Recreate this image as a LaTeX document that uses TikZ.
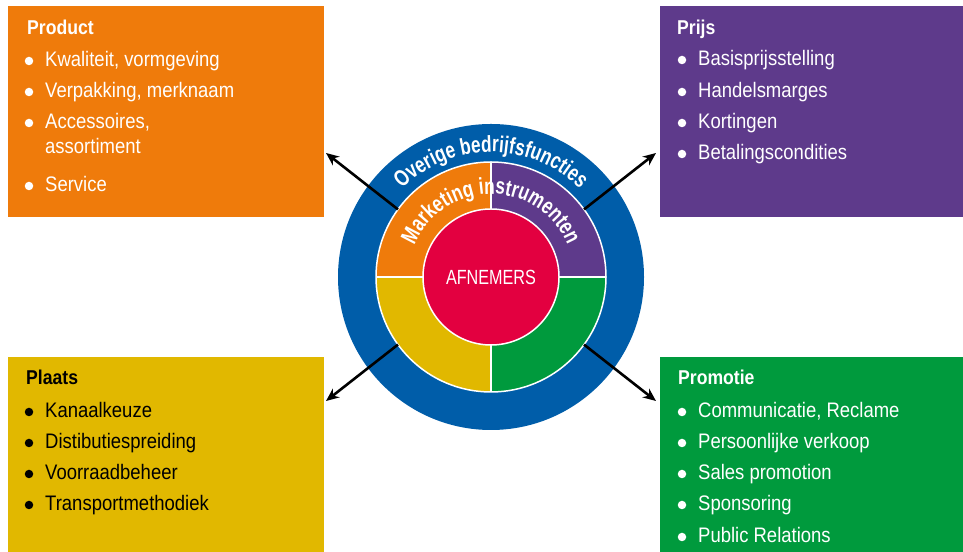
\documentclass[tikz,border=0pt]{standalone}
\usepackage{fontspec}
\setmainfont[FakeStretch=0.88]{Liberation Sans}
\newfontfamily\condfont[FakeStretch=0.79]{Liberation Sans}
\newfontfamily\arcfont[FakeStretch=0.75]{Liberation Sans}
\usetikzlibrary{decorations.text,arrows.meta}
\definecolor{cOrange}{HTML}{EF7B0B}
\definecolor{cPurple}{HTML}{5E3A8B}
\definecolor{cYellow}{HTML}{E1B800}
\definecolor{cGreen}{HTML}{009A3D}
\definecolor{cBlue}{HTML}{005DA9}
\definecolor{cRed}{HTML}{E30040}
\begin{document}
\begin{tikzpicture}[x=1bp,y=1bp,
  box/.style={draw=none, inner sep=0, outer sep=0, anchor=south west},
  ttl/.style={anchor=base west, inner sep=0, font=\fontsize{20bp}{22bp}\selectfont\bfseries},
  itm/.style={anchor=base west, inner sep=0, font=\fontsize{21bp}{25bp}\selectfont},
  dot/.style={circle, inner sep=0, outer sep=0, minimum size=8.5bp},
  arr/.style={line width=2.6bp, -{Stealth[length=13bp,width=11bp]}},
  wline/.style={draw=white, line width=1.5bp}]
\useasboundingbox (0,0) rectangle (963,552);

% boxes
\node[box, fill=cOrange, minimum width=316bp, minimum height=211bp] (product) at (8,335) {};
\node[box, fill=cPurple, minimum width=303bp, minimum height=211bp] (prijs) at (660,335) {};
\node[box, fill=cYellow, minimum width=316bp, minimum height=195bp] (plaats) at (8,0) {};
\node[box, fill=cGreen, minimum width=303bp, minimum height=195bp] (promotie) at (660,0) {};

% Product
\node[ttl, text=white] (tprod) at (27,517) {Product};
\foreach \n/\y/\t in {1/485/{Kwaliteit, vormgeving},2/454/{Verpakking, merknaam},3/423/{Accessoires,},5/360/{Service}}{
  \node[dot, fill=white] (pdot\n) at (29,\y+6) {};
  \node[itm, text=white] (pit\n) at (45,\y) {\t};
}
\node[itm, text=white] (pit4) at (45,398) {assortiment};

% Prijs
\node[ttl, text=white] (tprijs) at (677,517) {Prijs};
\foreach \n/\y/\t in {1/486/{Basisprijsstelling},2/454/{Handelsmarges},3/423/{Kortingen},4/392/{Betalingscondities}}{
  \node[dot, fill=white] (jdot\n) at (682,\y+6) {};
  \node[itm, text=white] (jit\n) at (698,\y) {\t};
}

% Plaats
\node[ttl, text=black] (tplaats) at (26,167) {Plaats};
\foreach \n/\y/\t in {1/134/{Kanaalkeuze},2/103/{Distibutiespreiding},3/72/{Voorraadbeheer},4/41/{Transportmethodiek}}{
  \node[dot, fill=black] (ldot\n) at (29,\y+6) {};
  \node[itm, text=black] (lit\n) at (45,\y) {\t};
}

% Promotie
\node[ttl, text=white] (tprom) at (678,167) {Promotie};
\foreach \n/\y/\t in {1/134/{Communicatie, Reclame},2/103/{Persoonlijke verkoop},3/72/{Sales promotion},4/41/{Sponsoring},5/9/{Public Relations}}{
  \node[dot, fill=white] (mdot\n) at (682,\y+6) {};
  \node[itm, text=white] (mit\n) at (698,\y) {\t};
}

% central circles
\coordinate (c) at (491,275);
\node[circle, fill=cBlue, inner sep=0, outer sep=0, minimum size=306bp] (outer) at (c) {};
\fill[cOrange] (c) -- ++(90:115) arc[start angle=90, end angle=180, radius=115] -- cycle;
\fill[cPurple] (c) -- ++(0:115) arc[start angle=0, end angle=90, radius=115] -- cycle;
\fill[cYellow] (c) -- ++(180:115) arc[start angle=180, end angle=270, radius=115] -- cycle;
\fill[cGreen] (c) -- ++(270:115) arc[start angle=270, end angle=360, radius=115] -- cycle;
\node[circle, wline, inner sep=0, outer sep=0, minimum size=230bp] (mi) at (c) {};
\draw[wline] (mi.north) -- (mi.south);
\draw[wline] (mi.west) -- (mi.east);
\node[circle, fill=cRed, wline, inner sep=0, outer sep=0, minimum size=136bp, text=white,
  font=\condfont\fontsize{20.5bp}{22bp}\selectfont] (afn) at (c) {AFNEMERS};

% arc texts
\path[decorate, decoration={text along path, text align=center,
  text={|\arcfont\fontsize{23bp}{23bp}\selectfont\bfseries\color{white}|Overige bedrijfsfuncties}}]
  (c) ++(140:125) arc[start angle=140, end angle=40, radius=125];
\path[decorate, decoration={text along path, text align=center,
  text={|\arcfont\fontsize{23bp}{23bp}\selectfont\bfseries\color{white}|Marketing instrumenten}}]
  (c) ++(170:83) arc[start angle=170, end angle=10, radius=83];

% arrows
\coordinate (tipP) at (326,399);
\coordinate (tipJ) at (656,399);
\coordinate (tipL) at (326,151);
\coordinate (tipM) at (656,151);
\draw[arr] (mi.144) -- (tipP);
\draw[arr] (mi.36) -- (tipJ);
\draw[arr] (mi.216) -- (tipL);
\draw[arr] (mi.324) -- (tipM);
\end{tikzpicture}
\end{document}
